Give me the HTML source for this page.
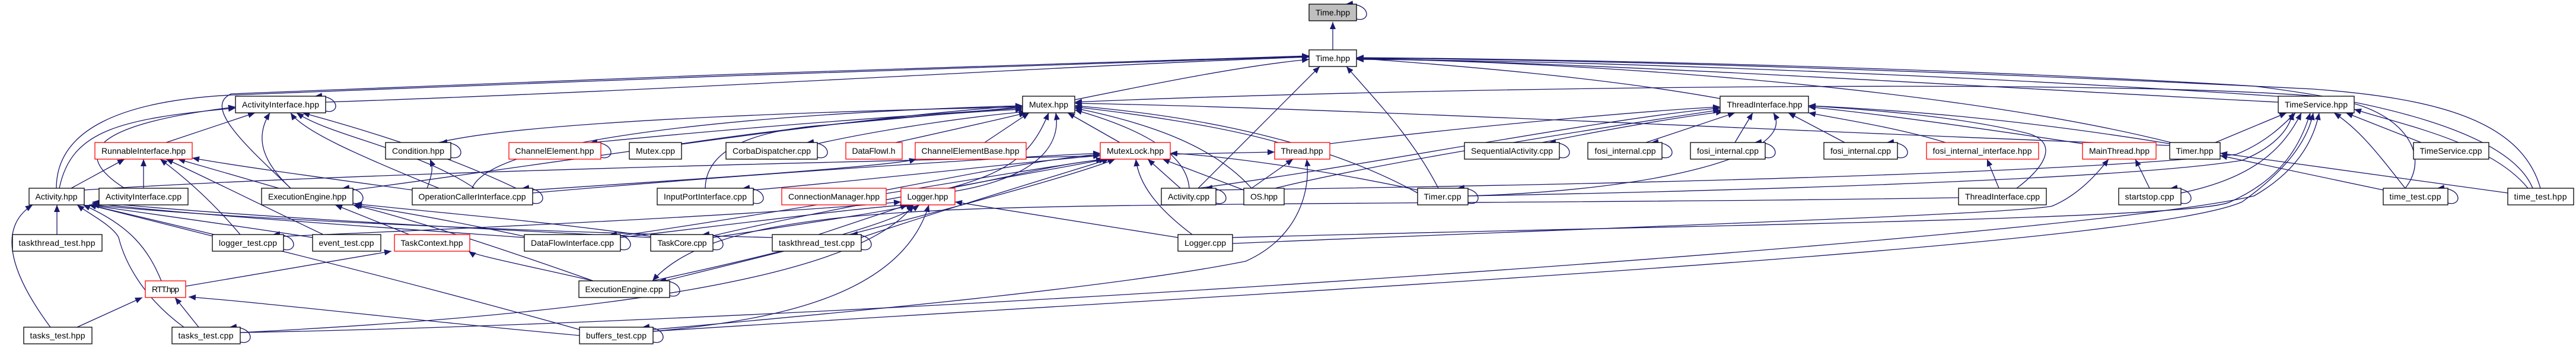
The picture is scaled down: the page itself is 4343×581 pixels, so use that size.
<!DOCTYPE html>
<html><head><meta charset="utf-8"><style>
html,body{margin:0;padding:0;background:#fff;width:4343px;height:581px;overflow:hidden}
svg{display:block}
.e{fill:none;stroke:#191970;stroke-width:1.3;marker-end:url(#ah)}
.b{fill:#fff;stroke:#000;stroke-width:1.3}
.r{fill:#fff;stroke:#f00;stroke-width:1.3}
.g{fill:#bfbfbf;stroke:#000;stroke-width:1.3}
text{font-family:"Liberation Sans","DejaVu Sans",sans-serif;font-size:14px;fill:#000;text-anchor:middle}
</style></head><body>
<svg width="4343" height="581" viewBox="0 0 4343 581" xmlns="http://www.w3.org/2000/svg">
<defs><marker id="ah" markerUnits="userSpaceOnUse" markerWidth="14" markerHeight="12" refX="12" refY="5" orient="auto"><path d="M0,0 L12,5 L0,10 z" fill="#191970"/></marker></defs>
<g>
<!-- to Time.hpp -->
<path class="e" d="M2247 84 L2247 37"/>
<path class="e" d="M549 172 C1200 150 1800 110 2207 96"/>
<path class="e" d="M95 317 C95 220 200 170 390 160 C900 140 1800 105 2207 95"/>
<path class="e" d="M490 317 C420 250 340 180 390 158 C900 136 1800 104 2207 94"/>
<path class="e" d="M1812 168 C1950 140 2100 110 2207 100"/>
<path class="e" d="M2020 317 L2225 112"/>
<path class="e" d="M2425 317 C2380 230 2320 170 2270 112"/>
<path class="e" d="M2900 166 C2700 130 2450 110 2287 98"/>
<path class="e" d="M3841 172 C3400 150 2800 110 2287 98"/>
<path class="e" d="M3660 240 C3300 150 2700 105 2287 99"/>
<path class="e" d="M4283 317 C4250 200 4100 165 3900 150 C3300 120 2700 100 2287 98"/>
<path class="e" d="M4270 317 C4230 220 4000 170 3800 145 C3300 115 2700 100 2287 97"/>
<path class="e" d="M4055 317 C4100 260 4050 190 3950 170 C3400 130 2700 102 2287 100"/>
<!-- to Mutex.hpp -->
<path class="e" d="M740 240 C900 200 1500 185 1724 180"/>
<path class="e" d="M1000 240 C1300 210 1600 190 1724 182"/>
<path class="e" d="M1149 242 C1400 205 1600 190 1724 184"/>
<path class="e" d="M1378 242 C1500 215 1650 195 1730 188"/>
<path class="e" d="M1510 240 C1600 220 1690 200 1730 190"/>
<path class="e" d="M1660 240 L1735 190"/>
<path class="e" d="M1888 240 L1800 190"/>
<path class="e" d="M2155 240 C2050 210 1900 190 1812 180"/>
<path class="e" d="M1600 317 C1700 290 1740 260 1768 190"/>
<path class="e" d="M1610 322 C1740 300 1790 250 1780 190"/>
<path class="e" d="M2005 317 C2000 250 1900 210 1812 185"/>
<path class="e" d="M2110 317 C2050 250 1950 210 1812 182"/>
<path class="e" d="M595 320 C900 280 1400 200 1724 178"/>
<path class="e" d="M796 317 C830 230 1300 190 1724 178"/>
<path class="e" d="M1189 317 C1190 260 1250 220 1400 210 L1724 180"/>
<path class="e" d="M2390 325 C2200 220 1950 190 1812 178"/>
<path class="e" d="M3658 245 C3000 220 2200 180 1812 174"/>
<path class="e" d="M3905 162 C3500 130 2300 150 1812 172"/>
<!-- to MutexLock.hpp -->
<path class="e" d="M1600 317 C1700 300 1800 270 1880 268"/>
<path class="e" d="M1990 317 L1935 268"/>
<path class="e" d="M2097 320 L1960 268"/>
<path class="e" d="M2010 395 C1950 350 1920 310 1915 268"/>
<path class="e" d="M1494 320 C1650 290 1780 265 1855 260"/>
<path class="e" d="M1120 473 C1500 380 1800 300 1880 268"/>
<path class="e" d="M898 325 C1300 290 1700 265 1855 258"/>
<path class="e" d="M1270 320 C1500 300 1750 270 1855 262"/>
<path class="e" d="M1046 397 C1300 360 1700 290 1860 268"/>
<path class="e" d="M1202 397 C1400 350 1750 290 1865 268"/>
<path class="e" d="M1452 400 C1600 350 1800 290 1870 268"/>
<path class="e" d="M2390 320 C2200 280 2050 262 1973 258"/>
<path class="e" d="M142 320 C600 290 1500 270 2149 256"/>
<!-- to ThreadInterface.hpp -->
<path class="e" d="M2242 242 C2500 210 2800 185 2900 180"/>
<path class="e" d="M2600 240 C2750 210 2850 195 2905 188"/>
<path class="e" d="M2775 240 L2925 190"/>
<path class="e" d="M2925 240 L2955 190"/>
<path class="e" d="M3110 240 L3015 190"/>
<path class="e" d="M3280 240 C3200 215 3100 200 3049 190"/>
<path class="e" d="M3511 242 C3300 210 3150 190 3049 180"/>
<path class="e" d="M3400 317 C3450 280 3470 240 3420 225 C3300 195 3150 185 3049 178"/>
<path class="e" d="M2020 317 C2300 280 2700 200 2900 182"/>
<path class="e" d="M2475 330 C2800 320 3030 260 2990 190"/>
<path class="e" d="M2150 317 C2300 280 2600 230 2900 185"/>
<path class="e" d="M3658 242 C3400 200 3200 185 3049 178"/>
<!-- to TimeService.hpp -->
<path class="e" d="M3735 240 L3855 190"/>
<path class="e" d="M3677 325 C3800 300 3850 250 3880 190"/>
<path class="e" d="M4082 240 L3955 190"/>
<path class="e" d="M4055 317 C4010 260 3980 220 3935 190"/>
<path class="e" d="M4262 317 C4200 240 4050 210 3969 184"/>
<path class="e" d="M2475 330 C3000 320 3600 300 3780 270 C3830 250 3860 220 3865 190"/>
<path class="e" d="M2050 320 C2800 310 3500 290 3770 260 C3820 240 3850 210 3870 190"/>
<path class="e" d="M1101 558 C2000 500 3600 420 3780 340 C3850 290 3890 240 3900 190"/>
<path class="e" d="M405 560 C1500 540 3500 400 3800 330 C3870 290 3900 240 3910 190"/>
<path class="e" d="M2078 400 C2800 380 3700 370 3760 340 C3850 300 3880 240 3895 190"/>
<!-- misc right -->
<path class="e" d="M4018 320 L3743 262"/>
<path class="e" d="M4228 325 L3743 258"/>
<path class="e" d="M3624 317 L3600 268"/>
<path class="e" d="M2078 410 C2800 380 3400 360 3460 347 C3500 330 3530 300 3555 268"/>
<path class="e" d="M3370 317 L3350 268"/>
<path class="e" d="M2110 317 L2180 268"/>
<path class="e" d="M1101 555 C1500 520 1900 480 2100 440 C2190 400 2210 320 2203 268"/>
<!-- to Logger.hpp -->
<path class="e" d="M478 398 C900 380 1300 360 1519 340"/>
<path class="e" d="M1046 400 C1300 370 1450 350 1530 345"/>
<path class="e" d="M1202 400 C1400 370 1500 355 1540 345"/>
<path class="e" d="M1380 395 L1530 345"/>
<path class="e" d="M1100 473 C1300 430 1500 380 1550 345"/>
<path class="e" d="M1101 558 C1300 540 1520 500 1566 345"/>
<path class="e" d="M1986 400 L1610 340"/>
<path class="e" d="M405 560 C1000 530 1450 470 1540 345"/>
<!-- to ActivityInterface.hpp -->
<path class="e" d="M280 240 L430 190"/>
<path class="e" d="M100 317 C120 220 200 200 397 182"/>
<path class="e" d="M210 317 C120 260 150 210 397 180"/>
<path class="e" d="M490 317 C440 270 430 230 455 190"/>
<path class="e" d="M740 317 C600 260 510 220 490 190"/>
<path class="e" d="M800 317 C700 250 560 230 500 190"/>
<path class="e" d="M870 317 C750 260 620 220 510 190"/>
<!-- to RunnableInterface.hpp -->
<path class="e" d="M120 317 L210 268"/>
<path class="e" d="M242 317 L242 268"/>
<path class="e" d="M470 317 L300 268"/>
<path class="e" d="M405 395 C350 330 300 290 270 268"/>
<path class="e" d="M545 395 C450 350 350 300 280 268"/>
<path class="e" d="M695 320 C550 300 400 280 324 266"/>
<!-- to Activity.hpp -->
<path class="e" d="M96 395 L96 345"/>
<path class="e" d="M85 551 C10 450 0 380 55 345"/>
<path class="e" d="M310 551 C240 500 210 440 200 400 C190 380 150 360 130 345"/>
<path class="e" d="M272 473 C250 420 220 380 140 345"/>
<path class="e" d="M360 398 L150 345"/>
<path class="e" d="M527 400 C400 380 250 360 150 345"/>
<path class="e" d="M1302 400 C900 390 400 370 155 345"/>
<path class="e" d="M977 555 C600 450 300 380 150 345"/>
<path class="e" d="M884 400 C600 380 300 360 155 342"/>
<path class="e" d="M1097 400 C700 380 350 360 156 340"/>
<!-- to ExecutionEngine.hpp etc -->
<path class="e" d="M690 395 L565 345"/>
<path class="e" d="M1000 473 C850 420 700 370 595 345"/>
<path class="e" d="M884 398 C800 380 700 360 598 345"/>
<path class="e" d="M1097 398 C900 370 700 355 598 343"/>
<path class="e" d="M313 482 L660 423"/>
<path class="e" d="M1000 473 C900 450 800 430 790 423"/>
<path class="e" d="M130 551 L240 501"/>
<path class="e" d="M335 551 L295 501"/>
<path class="e" d="M977 565 C700 540 450 510 318 500"/>
<path class="e" d="M720 317 C730 290 730 280 725 268"/>
<path class="e" d="M898 320 C1200 300 1500 280 1545 268"/>
<path class="e" d="M3450 330 C3000 340 2400 340 2000 345 C1500 350 1200 360 1100 473"/>
<!-- self loops -->
<path class="e" d="M2287 32 C2312 38 2312 4 2269 7"/>
<path class="e" d="M549 187 C574 193 574 159 531 162"/>
<path class="e" d="M760 265 C785 271 785 237 742 240"/>
<path class="e" d="M1013 265 C1038 271 1038 237 995 240"/>
<path class="e" d="M1378 265 C1403 271 1403 237 1360 240"/>
<path class="e" d="M595 342 C620 348 620 314 577 317"/>
<path class="e" d="M898 342 C923 348 923 314 880 317"/>
<path class="e" d="M1270 342 C1295 348 1295 314 1252 317"/>
<path class="e" d="M2050 342 C2075 348 2075 314 2032 317"/>
<path class="e" d="M2475 342 C2500 348 2500 314 2457 317"/>
<path class="e" d="M3677 342 C3702 348 3702 314 3659 317"/>
<path class="e" d="M4127 342 C4152 348 4152 314 4109 317"/>
<path class="e" d="M2629 265 C2654 271 2654 237 2611 240"/>
<path class="e" d="M2802 265 C2827 271 2827 237 2784 240"/>
<path class="e" d="M2976 265 C3001 271 3001 237 2958 240"/>
<path class="e" d="M3199 265 C3224 271 3224 237 3181 240"/>
<path class="e" d="M478 420 C503 426 503 392 460 395"/>
<path class="e" d="M1046 420 C1071 426 1071 392 1028 395"/>
<path class="e" d="M1202 420 C1227 426 1227 392 1184 395"/>
<path class="e" d="M1452 420 C1477 426 1477 392 1434 395"/>
<path class="e" d="M1129 498 C1154 504 1154 470 1111 473"/>
<path class="e" d="M405 576 C430 582 430 548 387 551"/>
<path class="e" d="M1101 576 C1126 582 1126 548 1083 551"/>
</g>
<g>
<rect class="g" x="2207" y="7" width="80" height="28"/><text x="2247" y="26" textLength="58">Time.hpp</text>
<rect class="b" x="2207" y="84" width="80" height="28"/><text x="2247" y="103" textLength="58">Time.hpp</text>
<rect class="b" x="397" y="162" width="152" height="28"/><text x="473" y="181" textLength="130">ActivityInterface.hpp</text>
<rect class="b" x="1724" y="162" width="88" height="28"/><text x="1768" y="181" textLength="66">Mutex.hpp</text>
<rect class="b" x="2900" y="162" width="149" height="28"/><text x="2975" y="181" textLength="127">ThreadInterface.hpp</text>
<rect class="b" x="3841" y="162" width="128" height="28"/><text x="3905" y="181" textLength="106">TimeService.hpp</text>
<rect class="r" x="160" y="240" width="164" height="28"/><text x="242" y="259" textLength="142">RunnableInterface.hpp</text>
<rect class="b" x="650" y="240" width="110" height="28"/><text x="705" y="259" textLength="88">Condition.hpp</text>
<rect class="r" x="858" y="240" width="155" height="28"/><text x="935" y="259" textLength="133">ChannelElement.hpp</text>
<rect class="b" x="1061" y="240" width="88" height="28"/><text x="1105" y="259" textLength="66">Mutex.cpp</text>
<rect class="b" x="1224" y="240" width="154" height="28"/><text x="1301" y="259" textLength="132">CorbaDispatcher.cpp</text>
<rect class="r" x="1426" y="240" width="95" height="28"/><text x="1473" y="259" textLength="73">DataFlowI.h</text>
<rect class="r" x="1543" y="240" width="187" height="28"/><text x="1636" y="259" textLength="165">ChannelElementBase.hpp</text>
<rect class="r" x="1855" y="240" width="118" height="28"/><text x="1914" y="259" textLength="96">MutexLock.hpp</text>
<rect class="r" x="2149" y="240" width="93" height="28"/><text x="2195" y="259" textLength="71">Thread.hpp</text>
<rect class="b" x="2469" y="240" width="160" height="28"/><text x="2549" y="259" textLength="138">SequentialActivity.cpp</text>
<rect class="b" x="2677" y="240" width="125" height="28"/><text x="2740" y="259" textLength="103">fosi_internal.cpp</text>
<rect class="b" x="2850" y="240" width="126" height="28"/><text x="2913" y="259" textLength="104">fosi_internal.cpp</text>
<rect class="b" x="3075" y="240" width="124" height="28"/><text x="3137" y="259" textLength="102">fosi_internal.cpp</text>
<rect class="r" x="3248" y="240" width="189" height="28"/><text x="3342" y="259" textLength="167">fosi_internal_interface.hpp</text>
<rect class="r" x="3511" y="240" width="124" height="28"/><text x="3573" y="259" textLength="102">MainThread.hpp</text>
<rect class="b" x="3658" y="240" width="85" height="28"/><text x="3700" y="259" textLength="63">Timer.hpp</text>
<rect class="b" x="4069" y="240" width="127" height="28"/><text x="4132" y="259" textLength="105">TimeService.cpp</text>
<rect class="b" x="49" y="317" width="93" height="28"/><text x="95" y="336" textLength="71">Activity.hpp</text>
<rect class="b" x="167" y="317" width="150" height="28"/><text x="242" y="336" textLength="128">ActivityInterface.cpp</text>
<rect class="b" x="441" y="317" width="154" height="28"/><text x="518" y="336" textLength="132">ExecutionEngine.hpp</text>
<rect class="b" x="695" y="317" width="203" height="28"/><text x="796" y="336" textLength="181">OperationCallerInterface.cpp</text>
<rect class="b" x="1108" y="317" width="162" height="28"/><text x="1189" y="336" textLength="140">InputPortInterface.cpp</text>
<rect class="r" x="1318" y="317" width="176" height="28"/><text x="1406" y="336" textLength="154">ConnectionManager.hpp</text>
<rect class="r" x="1519" y="317" width="91" height="28"/><text x="1564" y="336" textLength="69">Logger.hpp</text>
<rect class="b" x="1958" y="317" width="92" height="28"/><text x="2004" y="336" textLength="70">Activity.cpp</text>
<rect class="b" x="2097" y="317" width="68" height="28"/><text x="2131" y="336" textLength="46">OS.hpp</text>
<rect class="b" x="2390" y="317" width="85" height="28"/><text x="2432" y="336" textLength="63">Timer.cpp</text>
<rect class="b" x="3302" y="317" width="148" height="28"/><text x="3376" y="336" textLength="126">ThreadInterface.cpp</text>
<rect class="b" x="3572" y="317" width="105" height="28"/><text x="3624" y="336" textLength="83">startstop.cpp</text>
<rect class="b" x="4018" y="317" width="109" height="28"/><text x="4072" y="336" textLength="87">time_test.cpp</text>
<rect class="b" x="4228" y="317" width="111" height="28"/><text x="4283" y="336" textLength="89">time_test.hpp</text>
<rect class="b" x="21" y="395" width="151" height="28"/><text x="96" y="414" textLength="129">taskthread_test.hpp</text>
<rect class="b" x="358" y="395" width="120" height="28"/><text x="418" y="414" textLength="98">logger_test.cpp</text>
<rect class="b" x="527" y="395" width="115" height="28"/><text x="584" y="414" textLength="93">event_test.cpp</text>
<rect class="r" x="665" y="395" width="127" height="28"/><text x="728" y="414" textLength="105">TaskContext.hpp</text>
<rect class="b" x="884" y="395" width="162" height="28"/><text x="965" y="414" textLength="140">DataFlowInterface.cpp</text>
<rect class="b" x="1097" y="395" width="105" height="28"/><text x="1150" y="414" textLength="83">TaskCore.cpp</text>
<rect class="b" x="1302" y="395" width="150" height="28"/><text x="1377" y="414" textLength="128">taskthread_test.cpp</text>
<rect class="b" x="1986" y="395" width="92" height="28"/><text x="2032" y="414" textLength="70">Logger.cpp</text>
<rect class="r" x="245" y="473" width="68" height="28"/><text x="279" y="492" textLength="46">RTT.hpp</text>
<rect class="b" x="976" y="473" width="153" height="28"/><text x="1052" y="492" textLength="131">ExecutionEngine.cpp</text>
<rect class="b" x="40" y="551" width="115" height="28"/><text x="97" y="570" textLength="93">tasks_test.hpp</text>
<rect class="b" x="290" y="551" width="115" height="28"/><text x="347" y="570" textLength="93">tasks_test.cpp</text>
<rect class="b" x="977" y="551" width="124" height="28"/><text x="1039" y="570" textLength="102">buffers_test.cpp</text>
</g>
</svg>
</body></html>
